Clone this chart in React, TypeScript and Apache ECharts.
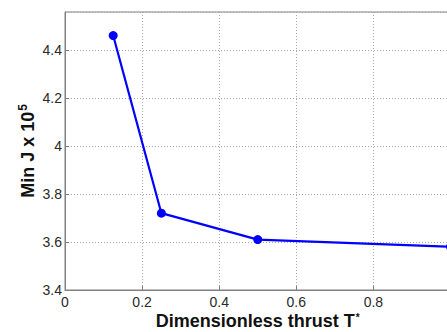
import React, { useEffect, useRef } from "react";
import * as echarts from "echarts";

const thrust = [0.125, 0.25, 0.5, 1.0];
const minJ = [4.46, 3.72, 3.61, 3.58];
const xTicks = [0, 0.2, 0.4, 0.6, 0.8, 1];
const yTicks = [3.4, 3.6, 3.8, 4.0, 4.2, 4.4];

const FONT = "'Liberation Sans', Arial, Helvetica, sans-serif";

export default function App() {
  const ref = useRef<HTMLDivElement>(null);
  useEffect(() => {
    const chart = echarts.init(ref.current!, null, { renderer: "svg" });
    const fmt = (v: number) => {
      const r = Math.round(v * 10) / 10;
      return r === 0 ? "0" : String(r);
    };
    chart.setOption({
      animation: false,
      backgroundColor: "#ffffff",
      grid: {
        left: 65,
        right: 9.5,
        top: 12,
        bottom: 42,
        show: true,
        borderColor: "#808080",
        borderWidth: 1,
        containLabel: false,
        outerBoundsMode: "none",
      },
      xAxis: {
        type: "value",
        min: xTicks[0],
        max: xTicks[xTicks.length - 1],
        interval: 0.2,
        name: "{t|Dimensionless thrust T}{sup|*}",
        nameLocation: "middle",
        nameGap: 22,
        nameMoveOverlap: false,
        nameTextStyle: {
          rich: {
            t: { fontFamily: FONT, fontSize: 18, fontWeight: "bold", color: "#111", lineHeight: 18 },
            sup: { fontFamily: FONT, fontSize: 10, fontWeight: "bold", color: "#111", verticalAlign: "top", lineHeight: 18, padding: [0, 0, 0, 1] },
          },
        },
        axisLine: { show: true, lineStyle: { color: "#808080", width: 1 } },
        axisTick: { show: true, inside: true, length: 4, lineStyle: { color: "#808080" } },
        axisLabel: {
          fontFamily: FONT,
          fontSize: 14,
          color: "#2a2a2a",
          margin: 5,
          showMaxLabel: false,
          formatter: fmt,
        },
        splitLine: { show: true, lineStyle: { color: "#a8a8a8", type: [1, 2], width: 1 } },
      },
      yAxis: {
        type: "value",
        min: yTicks[0],
        max: 4.558,
        interval: 0.2,
        name: "{t|Min J x 10}{sup|5}",
        nameLocation: "middle",
        nameGap: 26,
        nameMoveOverlap: false,
        nameTextStyle: {
          rich: {
            t: { fontFamily: FONT, fontSize: 18, fontWeight: "bold", color: "#111", lineHeight: 22 },
            sup: { fontFamily: FONT, fontSize: 12, fontWeight: "bold", color: "#111", verticalAlign: "top", lineHeight: 22, padding: [0, 0, 0, 1] },
          },
        },
        axisLine: { show: true, lineStyle: { color: "#808080", width: 1 } },
        axisTick: { show: true, inside: true, length: 4, lineStyle: { color: "#808080" } },
        axisLabel: {
          fontFamily: FONT,
          fontSize: 14,
          color: "#2a2a2a",
          margin: 3,
          showMaxLabel: false,
          formatter: (v: number) => (yTicks.some((t) => Math.abs(t - v) < 1e-6) ? fmt(v) : ""),
        },
        splitLine: { show: true, lineStyle: { color: "#a8a8a8", type: [1, 2], width: 1 } },
      },
      series: [
        {
          type: "line",
          data: thrust.map((x, i) => [x, minJ[i]]),
          symbol: "circle",
          symbolSize: 9,
          itemStyle: { color: "#0000ff" },
          lineStyle: { color: "#0000ff", width: 2.2 },
        },
      ],
    });
    return () => chart.dispose();
  }, []);
  return (
    <div style={{ position: "fixed", left: 0, top: 0, width: 447, height: 332, overflow: "hidden", background: "#fff" }}>
      <div ref={ref} style={{ width: 460, height: 332 }} />
    </div>
  );
}
